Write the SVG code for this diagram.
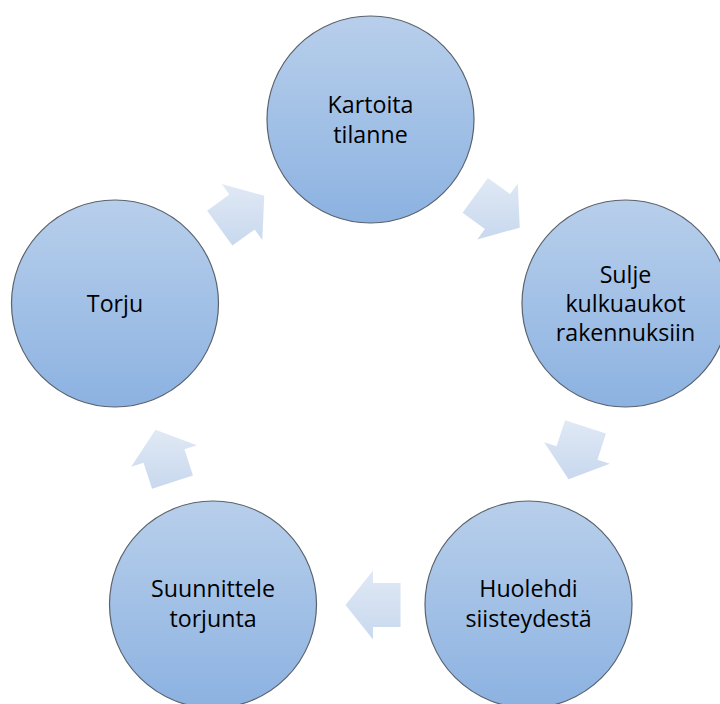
<svg xmlns="http://www.w3.org/2000/svg" width="720" height="704" viewBox="0 0 720 704">
<defs>
<linearGradient id="gc" x1="0" y1="0" x2="0" y2="1">
<stop offset="0" stop-color="#B8CFEB"/>
<stop offset="1" stop-color="#8CB2E1"/>
</linearGradient>
<linearGradient id="ga" x1="0" y1="0" x2="0" y2="1">
<stop offset="0" stop-color="#E0E9F5"/>
<stop offset="1" stop-color="#C8D8EE"/>
</linearGradient>
</defs>
<style>
.node circle{fill:url(#gc);stroke:#5A626C;stroke-width:1.2}
.node text{font-family:"Open Sans","Noto Sans",sans-serif;font-size:23.2px;fill:#000;text-anchor:middle}
.arr{fill:url(#ga);stroke:none}
</style>
<rect width="720" height="704" fill="#fff"/>
<g id="connectors">
<path class="arr" d="M487.9,177.9 L510.1,194.1 L517.8,183.6 L519.75,227.66 L477.2,239.4 L484.9,228.9 L462.6,212.7 Z"/>
<path class="arr" d="M605.95,433.48 L597.45,459.64 L609.81,463.66 L568.5,479.16 L544.19,442.34 L556.55,446.36 L565.05,420.2 Z"/>
<path class="arr" d="M400.5,627 L373,627 L373,639.5 L345.5,605 L373,570.5 L373,583 L400.5,583 Z"/>
<path class="arr" d="M152.05,488.8 L143.55,462.64 L131.19,466.66 L155.5,429.84 L196.81,445.34 L184.45,449.36 L192.95,475.52 Z"/>
<path class="arr" d="M207.11,210.77 L229.36,194.61 L221.72,184.09 L264.25,195.84 L262.28,239.91 L254.64,229.39 L232.39,245.55 Z"/>
</g>
<g id="n1" class="node">
<circle cx="370.5" cy="119.5" r="103.5"/>
<text x="370.5" y="113">Kartoita</text>
<text x="370.5" y="143">tilanne</text>
</g>
<g id="n2" class="node">
<circle cx="625.5" cy="303.5" r="103.5"/>
<text x="625.5" y="283">Sulje</text>
<text x="625.5" y="312">kulkuaukot</text>
<text x="625.5" y="341">rakennuksiin</text>
</g>
<g id="n3" class="node">
<circle cx="528.5" cy="604.5" r="103.5"/>
<text x="528.5" y="597">Huolehdi</text>
<text x="528.5" y="627">siisteydestä</text>
</g>
<g id="n4" class="node">
<circle cx="213" cy="604.5" r="103.5"/>
<text x="213" y="597">Suunnittele</text>
<text x="213" y="627">torjunta</text>
</g>
<g id="n5" class="node">
<circle cx="115" cy="303.5" r="103.5"/>
<text x="115" y="312">Torju</text>
</g>
</svg>
